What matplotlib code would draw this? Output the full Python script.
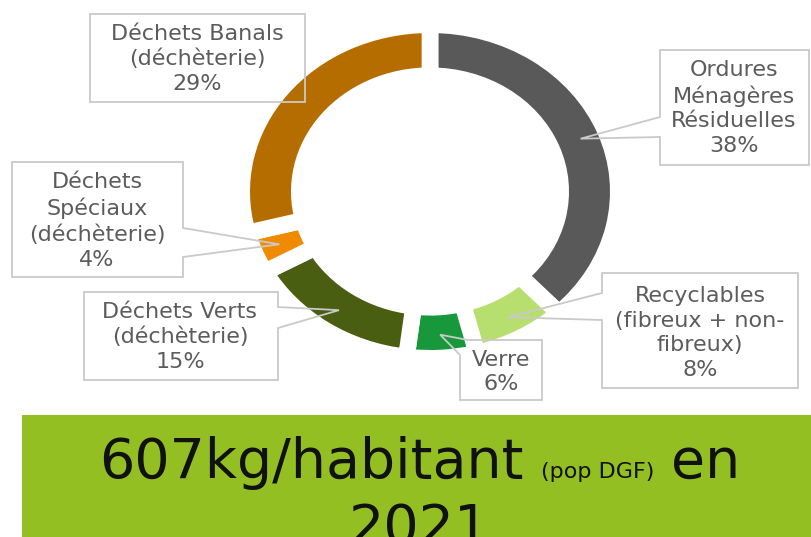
import matplotlib
matplotlib.use("Agg")
import matplotlib.pyplot as plt
from matplotlib.patches import Polygon, Rectangle
import numpy as np

# ---- data ----
categories = ["Ordures\nMénagères\nRésiduelles",
              "Recyclables\n(fibreux + non-\nfibreux)",
              "Verre",
              "Déchets Verts\n(déchèterie)",
              "Déchets\nSpéciaux\n(déchèterie)",
              "Déchets Banals\n(déchèterie)"]
shares = [38, 8, 6, 15, 4, 29]
colors = ["#595959", "#b7df70", "#17983b", "#4a5e12", "#f08b00", "#b56d00"]
headline_main = "607kg/habitant"
headline_note = "(pop DGF)"
headline_tail = "en"
headline_year = "2021"

W, H = 812, 537
fig = plt.figure(figsize=(W / 100, H / 100), dpi=100)

# pie axes (slightly elliptical, as in the reference)
gap_lw = 12  # points
half = gap_lw * 100 / 72 / 2
cx, cy = 430, 191.5
rx, ry = 180 + half, 158.5 + half
ring_w = 1 - (139 - half) / rx
pax = fig.add_axes([(cx - rx) / W, 1 - (cy + ry) / H, 2 * rx / W, 2 * ry / H])
wedges, _ = pax.pie(shares, colors=colors, startangle=90, counterclock=False,
                    radius=1, wedgeprops=dict(width=ring_w, edgecolor="white", linewidth=gap_lw))
pax.set_xlim(-1, 1)
pax.set_ylim(-1, 1)
pax.set_aspect("auto")
pax.axis("off")

# overlay axes in pixel coordinates
ov = fig.add_axes([0, 0, 1, 1], zorder=5)
ov.set_xlim(0, W)
ov.set_ylim(H, 0)
ov.axis("off")
ov.patch.set_alpha(0)

def tip_of(i, r=0.86):
    w = wedges[i]
    mid = np.deg2rad((w.theta1 + w.theta2) / 2)
    p = pax.transData.transform((r * np.cos(mid), r * np.sin(mid)))
    return tuple(ov.transData.inverted().transform(p))

# callout outlines (None = pointer tip), and text centres
outlines = [
    [(660, 117), None, (660, 137), (660, 165), (809, 165), (809, 50), (660, 50)],
    [(602, 293), None, (602, 320), (602, 388), (798, 388), (798, 273), (602, 273)],
    [(468, 340), None, (460, 355), (460, 400), (542, 400), (542, 340)],
    [(278, 307), None, (278, 328), (278, 380), (84, 380), (84, 292), (278, 292)],
    [(183, 228), None, (183, 257), (183, 277), (12, 277), (12, 162), (183, 162)],
    [(90, 14), (305, 14), (305, 102), (90, 102)],
]
centres = [(734, 108), (700, 333), (501, 372), (180, 337), (97, 221), (197, 59)]

for i, (cat, s) in enumerate(zip(categories, shares)):
    pts = [tip_of(i) if p is None else p for p in outlines[i]]
    ov.add_patch(Polygon(pts, closed=True, fill=False, edgecolor="#c9c9c9", linewidth=1.3))
    ov.text(centres[i][0], centres[i][1], f"{cat}\n{s}%", ha="center", va="center",
            fontsize=16, color="#5c5c5c", linespacing=1.3, family="DejaVu Sans")

# banner
ov.add_patch(Rectangle((22, 415), W - 22, H - 415, facecolor="#93bf23", edgecolor="none"))

renderer = fig.canvas.get_renderer()
pieces = [(headline_main, 40), (headline_note, 16), (headline_tail, 40)]
texts = []
widths = []
for txt, fs in pieces:
    t = ov.text(0, 478, txt, fontsize=fs, color="#111111", ha="left", va="baseline")
    bb = t.get_window_extent(renderer=renderer)
    texts.append(t)
    widths.append(bb.width)
gap = 17
total = sum(widths) + gap * (len(widths) - 1)
x = 420 - total / 2
for t, w in zip(texts, widths):
    t.set_x(x)
    x += w + gap
ov.text(420, 544, headline_year, fontsize=40, color="#111111", ha="center", va="baseline")

fig.savefig("out.png", dpi=100)
